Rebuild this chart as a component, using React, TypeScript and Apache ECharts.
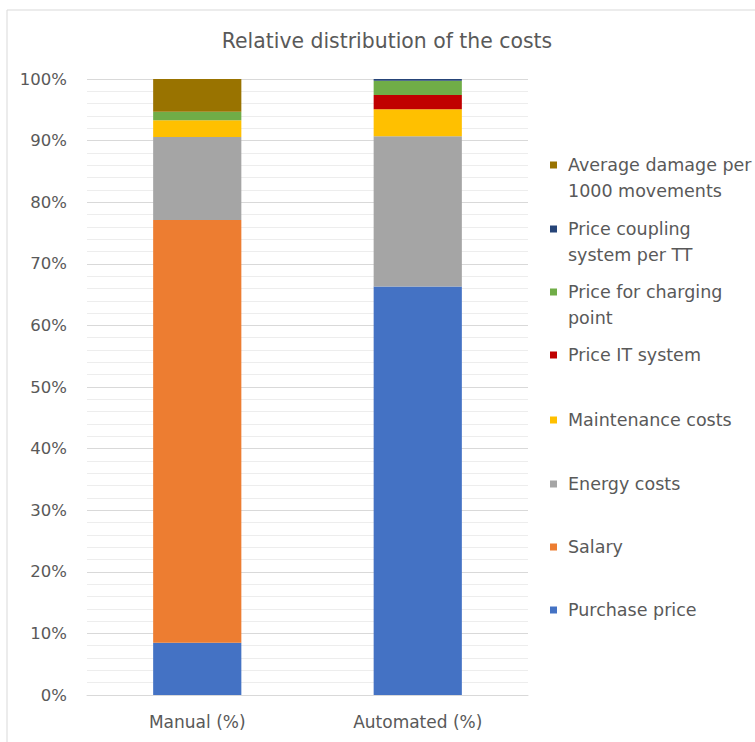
import React, { useEffect, useRef } from "react";
import * as echarts from "echarts";

const categories = ["Manual (%)", "Automated (%)"];

const seriesNames = [
  "Purchase price",
  "Salary",
  "Energy costs",
  "Maintenance costs",
  "Price IT system",
  "Price for charging point",
  "Price coupling system per TT",
  "Average damage per 1000 movements",
];

// Share of each cost item, in percent: [Manual, Automated]
const purchasePrice = [8.5, 66.3];
const salary = [68.6, 0];
const energyCosts = [13.5, 24.4];
const maintenanceCosts = [2.7, 4.4];
const priceITSystem = [0, 2.3];
const priceChargingPoint = [1.4, 2.3];
const priceCouplingSystem = [0, 0.3];
const averageDamage = [5.3, 0];

const seriesValues = [
  purchasePrice,
  salary,
  energyCosts,
  maintenanceCosts,
  priceITSystem,
  priceChargingPoint,
  priceCouplingSystem,
  averageDamage,
];

const seriesColors = [
  "#4472C4",
  "#ED7D31",
  "#A5A5A5",
  "#FFC000",
  "#C00000",
  "#70AD47",
  "#264478",
  "#997300",
];

// Legend labels as they wrap in the legend column
const legendLabels: Record<string, string> = {
  "Average damage per 1000 movements": "Average damage per\n1000 movements",
  "Price coupling system per TT": "Price coupling\nsystem per TT",
  "Price for charging point": "Price for charging\npoint",
};

const FONT = "'DejaVu Sans', 'Open Sans', sans-serif";
const TEXT_COLOR = "#595959";
const LINE_H = 26;

export default function App() {
  const ref = useRef<HTMLDivElement>(null);

  useEffect(() => {
    if (!ref.current) return;
    const chart = echarts.init(ref.current, null, { renderer: "svg" });

    // Legend column, top entry first; first-line centres of each entry
    const legendOrder = [...seriesNames].reverse();
    const legendTops = [165, 229, 292, 355, 420, 484, 547, 610];

    const legends = legendOrder.map((name, i) => {
      const twoLine = !!legendLabels[name];
      const h = twoLine ? 7 + LINE_H : 7;
      return {
        orient: "vertical",
        left: 550,
        top: legendTops[i] - LINE_H / 2,
        padding: 0,
        itemWidth: 13,
        itemHeight: h,
        symbolKeepAspect: false,
        data: [
          {
            name,
            icon: `path://M0,0L7,0L7,7L0,7Z M13,${h}`,
          },
        ],
        formatter: (n: string) => legendLabels[n] || n,
        textStyle: {
          color: TEXT_COLOR,
          fontFamily: FONT,
          fontSize: 17.5,
          lineHeight: LINE_H,
        },
        selectedMode: false,
      };
    });

    chart.setOption({
      animation: false,
      backgroundColor: "#ffffff",
      title: {
        text: "Relative distribution of the costs",
        left: 387,
        top: 31,
        padding: 0,
        textAlign: "center",
        textStyle: {
          color: TEXT_COLOR,
          fontFamily: FONT,
          fontSize: 20.4,
          fontWeight: "normal",
        },
      },
      graphic: [
        {
          type: "rect",
          shape: { x: 7, y: 10, width: 800, height: 800 },
          style: { fill: "none", stroke: "#d9d9d9", lineWidth: 1 },
          silent: true,
        },
      ],
      legend: legends,
      grid: { left: 87, right: 227, top: 79, bottom: 47 },
      xAxis: {
        type: "category",
        data: categories,
        axisTick: { show: false },
        axisLine: { lineStyle: { color: "#d9d9d9" } },
        axisLabel: {
          color: TEXT_COLOR,
          fontFamily: FONT,
          fontSize: 17,
          margin: 18,
        },
      },
      yAxis: {
        type: "value",
        min: 0,
        max: 100,
        interval: 10,
        axisLine: { show: false },
        axisTick: { show: false },
        axisLabel: {
          formatter: "{value}%",
          color: TEXT_COLOR,
          fontFamily: FONT,
          fontSize: 16.5,
          margin: 20,
        },
        splitLine: { lineStyle: { color: "#d9d9d9" } },
        minorTick: { show: false, splitNumber: 5 },
        minorSplitLine: { show: true, lineStyle: { color: "#ededed" } },
      },
      series: seriesNames.map((name, i) => ({
        name,
        type: "bar",
        stack: "total",
        barWidth: "40%",
        data: seriesValues[i],
        itemStyle: { color: seriesColors[i] },
      })),
    });

    return () => chart.dispose();
  }, []);

  return (
    <div
      ref={ref}
      style={{ position: "absolute", left: 0, top: 0, width: 755, height: 742 }}
    />
  );
}
